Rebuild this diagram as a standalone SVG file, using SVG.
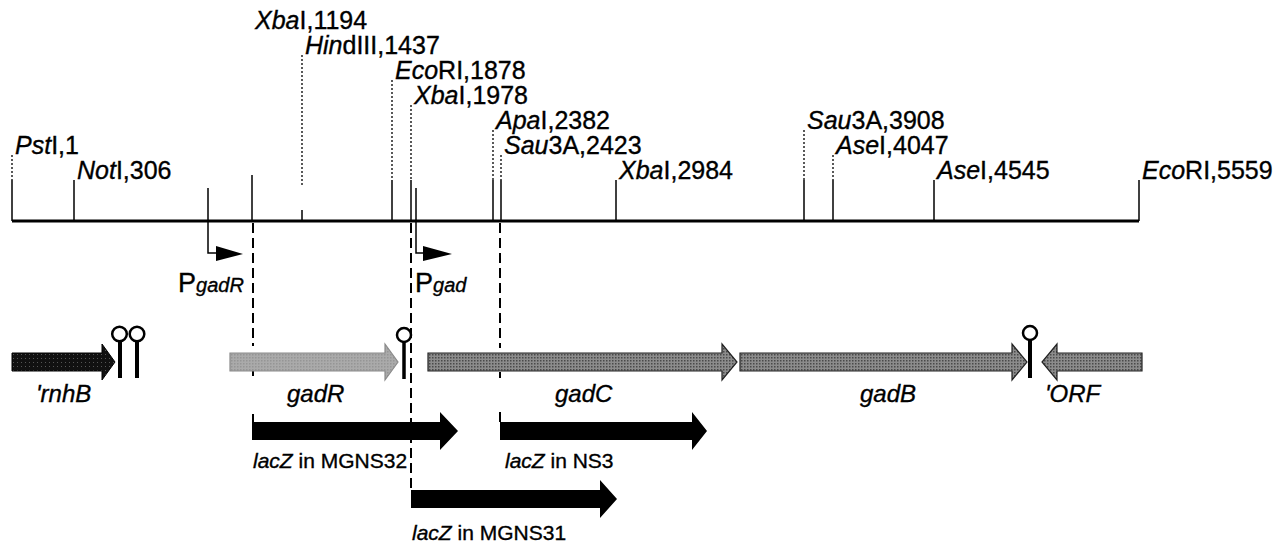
<svg xmlns="http://www.w3.org/2000/svg" width="1278" height="543" viewBox="0 0 1278 543">
<style>
text{font-family:"Liberation Sans",Arial,Helvetica,sans-serif;fill:#000;stroke:#000;stroke-width:0.35}
.site{font-size:25px}
.i{font-style:italic}
.tick{stroke:#000;stroke-width:1.5;fill:none}
.dot{stroke:#000;stroke-width:1.3;stroke-dasharray:2 2;fill:none}
.dash{stroke:#000;stroke-width:2;stroke-dasharray:10 5;fill:none}
.stem{stroke:#000;stroke-width:4}
.loop{fill:#fff;stroke:#000;stroke-width:2.5}
.gene{font-size:24px;font-style:italic}
.lac{font-size:21px}
.lz{fill:#000}
</style>
<defs>
<pattern id="stip" width="3" height="3" patternUnits="userSpaceOnUse">
<rect width="3" height="3" fill="#8c8c8c"/>
<rect width="1.5" height="1.5" fill="#4a4a4a"/>
</pattern>
<pattern id="stipL" width="3" height="3" patternUnits="userSpaceOnUse">
<rect width="3" height="3" fill="#aaaaaa"/>
<rect width="1.5" height="1.5" fill="#959595"/>
</pattern>
<pattern id="stipD" width="4" height="4" patternUnits="userSpaceOnUse">
<rect width="4" height="4" fill="#111"/>
<rect x="1" y="2" width="1" height="1" fill="#555"/>
</pattern>
</defs>

<g id="backbone">
<line x1="12" y1="221" x2="1139" y2="221" stroke="#000" stroke-width="3"/>
</g>

<g id="sites">
<g id="site-PstI-1"><line class="dot" x1="12" y1="155" x2="12" y2="180"/><line class="tick" x1="12" y1="180" x2="12" y2="221"/><text class="site" x="15" y="154"><tspan class="i">Pst</tspan>I,1</text></g>
<g id="site-NotI-306"><line class="tick" x1="74" y1="180" x2="74" y2="221"/><text class="site" x="77" y="179"><tspan class="i">Not</tspan>I,306</text></g>
<g id="site-XbaI-1194"><line class="tick" x1="252" y1="175" x2="252" y2="221"/><text class="site" x="255" y="29"><tspan class="i">Xba</tspan>I,1194</text></g>
<g id="site-HindIII-1437"><line class="dot" x1="302" y1="55" x2="302" y2="185"/><line class="tick" x1="302" y1="210" x2="302" y2="221"/><text class="site" x="305" y="54"><tspan class="i">Hin</tspan>dIII,1437</text></g>
<g id="site-EcoRI-1878"><line class="dot" x1="392" y1="80" x2="392" y2="180"/><line class="tick" x1="392" y1="180" x2="392" y2="221"/><text class="site" x="395" y="79"><tspan class="i">Eco</tspan>RI,1878</text></g>
<g id="site-XbaI-1978"><line class="dot" x1="411" y1="105" x2="411" y2="180"/><line class="tick" x1="411" y1="180" x2="411" y2="221"/><text class="site" x="414" y="104"><tspan class="i">Xba</tspan>I,1978</text></g>
<g id="site-ApaI-2382"><line class="dot" x1="493" y1="130" x2="493" y2="180"/><line class="tick" x1="493" y1="180" x2="493" y2="221"/><text class="site" x="496" y="129"><tspan class="i">Apa</tspan>I,2382</text></g>
<g id="site-Sau3A-2423"><line class="dot" x1="501" y1="155" x2="501" y2="180"/><line class="tick" x1="501" y1="180" x2="501" y2="221"/><text class="site" x="504" y="154"><tspan class="i">Sau</tspan>3A,2423</text></g>
<g id="site-XbaI-2984"><line class="tick" x1="616" y1="180" x2="616" y2="221"/><text class="site" x="619" y="179"><tspan class="i">Xba</tspan>I,2984</text></g>
<g id="site-Sau3A-3908"><line class="dot" x1="804" y1="130" x2="804" y2="180"/><line class="tick" x1="804" y1="180" x2="804" y2="221"/><text class="site" x="807" y="129"><tspan class="i">Sau</tspan>3A,3908</text></g>
<g id="site-AseI-4047"><line class="dot" x1="833" y1="155" x2="833" y2="180"/><line class="tick" x1="833" y1="180" x2="833" y2="221"/><text class="site" x="836" y="154"><tspan class="i">Ase</tspan>I,4047</text></g>
<g id="site-AseI-4545"><line class="tick" x1="934" y1="180" x2="934" y2="221"/><text class="site" x="937" y="179"><tspan class="i">Ase</tspan>I,4545</text></g>
<g id="site-EcoRI-5559"><line class="tick" x1="1139" y1="180" x2="1139" y2="221"/><text class="site" x="1142" y="179"><tspan class="i">Eco</tspan>RI,5559</text></g>
</g>

<g id="connectors">
<line class="dash" x1="253" y1="223" x2="253" y2="346"/>
<line class="dash" x1="253" y1="369" x2="253" y2="376"/>
<line class="dash" x1="253" y1="414" x2="253" y2="422"/>
<line class="dash" x1="411" y1="223" x2="411" y2="490"/>
<line class="dash" x1="500" y1="223" x2="500" y2="348"/>
<line class="dash" x1="500" y1="372" x2="500" y2="378"/>
<line class="dash" x1="500" y1="412" x2="500" y2="422"/>
</g>

<g id="promoter-PgadR">
<polyline class="tick" points="208,188 208,253 217,253" stroke-width="1.8"/>
<polygon points="216,246 243,254 216,261" fill="#000"/>
<text x="178" y="292" font-size="27" stroke-width="0.2">P<tspan class="i" font-size="20">gadR</tspan></text>
</g>
<g id="promoter-Pgad">
<polyline class="tick" points="416,188 416,253 424,253" stroke-width="1.8"/>
<polygon points="423,246 452,254 423,261" fill="#000"/>
<text x="415" y="292" font-size="27" stroke-width="0.2">P<tspan class="i" font-size="20">gad</tspan></text>
</g>

<g id="gene-rnhB">
<path d="M12,353 H102 V344 L115,362 L102,380 V371 H12 Z" fill="url(#stipD)" stroke="#000" stroke-width="1"/>
<text class="gene" x="36" y="402">'rnhB</text>
</g>
<g id="term-rnhB">
<line class="stem" x1="120" y1="340" x2="120" y2="378"/>
<line class="stem" x1="137" y1="340" x2="137" y2="378"/>
<circle class="loop" cx="119.5" cy="334" r="7.3"/>
<circle class="loop" cx="137" cy="334" r="7.3"/>
</g>
<g id="gene-gadR">
<path d="M230,353 H385 V344 L398,362 L385,380 V371 H230 Z" fill="url(#stipL)" stroke="#8a8a8a" stroke-width="1.2"/>
<text class="gene" x="287" y="402">gadR</text>
</g>
<g id="term-gadR">
<line x1="404" y1="341" x2="404" y2="379" stroke="#000" stroke-width="3.5"/>
<circle class="loop" cx="404" cy="335" r="7" stroke-width="2.2"/>
</g>
<g id="gene-gadC">
<path d="M428,353 H722 V344 L737,362 L722,380 V371 H428 Z" fill="url(#stip)" stroke="#222" stroke-width="1.2"/>
<text class="gene" x="555" y="402">gadC</text>
</g>
<g id="gene-gadB">
<path d="M740,353 H1012 V344 L1027,362 L1012,380 V371 H740 Z" fill="url(#stip)" stroke="#222" stroke-width="1.2"/>
<text class="gene" x="860" y="402">gadB</text>
</g>
<g id="term-gadB">
<line class="stem" x1="1030" y1="340" x2="1030" y2="378"/>
<circle class="loop" cx="1030" cy="333" r="7"/>
</g>
<g id="gene-ORF">
<path d="M1142,353 H1057 V344 L1042,362 L1057,380 V371 H1142 Z" fill="url(#stip)" stroke="#222" stroke-width="1.2"/>
<text class="gene" x="1045" y="402">'ORF</text>
</g>

<g id="lacZ-MGNS32">
<path class="lz" d="M252,422 H440 V412 L458,431 L440,450 V440 H252 Z"/>
<text class="lac" x="253" y="468" stroke-width="0.2"><tspan class="i">lacZ</tspan> in MGNS32</text>
</g>
<g id="lacZ-NS3">
<path class="lz" d="M500,422 H692 V412 L707,431 L692,450 V440 H500 Z"/>
<text class="lac" x="505" y="468" stroke-width="0.2"><tspan class="i">lacZ</tspan> in NS3</text>
</g>
<g id="lacZ-MGNS31">
<path class="lz" d="M411,490 H600 V480 L617,499 L600,518 V508 H411 Z"/>
<text class="lac" x="412" y="540" stroke-width="0.2"><tspan class="i">lacZ</tspan> in MGNS31</text>
</g>
</svg>
